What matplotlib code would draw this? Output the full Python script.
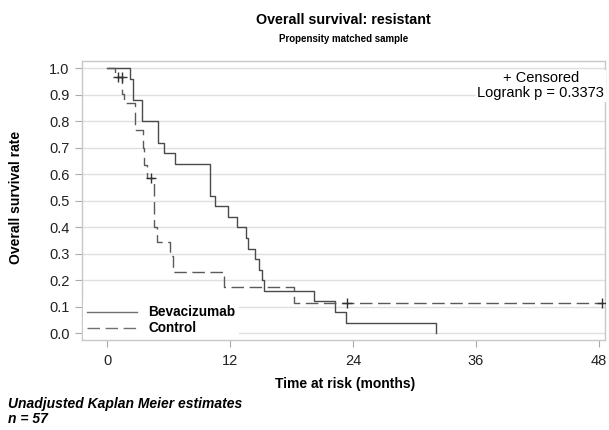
import matplotlib.pyplot as plt
import numpy as np

plt.rcParams["font.family"] = ["Liberation Sans", "DejaVu Sans"]

# Kaplan-Meier steps (months, survival)
bev_time = [0, 2.2, 2.5, 3.4, 5.0, 5.5, 6.6, 10.0, 10.5, 11.8, 12.65, 13.6, 13.8,
            14.4, 14.8, 15.1, 15.35, 20.2, 22.3, 23.3, 32.1]
bev_surv = [1.0, 0.96, 0.88, 0.80, 0.72, 0.68, 0.64, 0.52, 0.48, 0.44, 0.40, 0.36, 0.32,
            0.28, 0.24, 0.20, 0.16, 0.12, 0.08, 0.04, 0.0]

ctl_time = [0, 0.8, 1.45, 1.6, 2.7, 3.5, 3.6, 3.85, 4.6, 4.9, 6.1, 6.4, 11.4, 18.2, 48.3]
ctl_surv = [1.0, 0.969, 0.902, 0.869, 0.769, 0.70, 0.635, 0.585, 0.40, 0.345, 0.29,
            0.232, 0.174, 0.116, 0.116]

ctl_cens_time = [1.1, 1.4, 4.3, 23.4, 48.3]
ctl_cens_surv = [0.969, 0.969, 0.585, 0.116, 0.116]

x_ticks = [0, 12, 24, 36, 48]
y_ticks = np.round(np.arange(0, 1.01, 0.1), 1)

fig = plt.figure(figsize=(6.09, 4.30), dpi=100)
ax = fig.add_axes([0.135, 0.209, 0.858, 0.649])

ax.step(bev_time, bev_surv, where="post", color="#4a4a4a", linewidth=1.0,
        label="Bevacizumab", zorder=3)
ax.step(ctl_time, ctl_surv, where="post", color="#5a5a5a", linewidth=1.0,
        linestyle=(0, (9, 4)), label="Control", zorder=3)
ax.plot(ctl_cens_time, ctl_cens_surv, linestyle="none", marker="+", markersize=7,
        markeredgewidth=1.0, color="#333333", zorder=4)

ax.set_xlim(-2.44, 48.6)
ax.set_ylim(-0.026, 1.028)
ax.set_xticks(x_ticks)
ax.set_yticks(y_ticks)
ax.set_yticklabels([f"{v:.1f}" for v in y_ticks])
ax.grid(axis="y", color="#e0e0e0", linewidth=1.0)
ax.set_axisbelow(True)
for s in ax.spines.values():
    s.set_color("#c8c8c8")
    s.set_linewidth(1.0)
ax.tick_params(axis="both", color="#aaaaaa", length=5, labelsize=10.5,
               labelcolor="#222222")
ax.tick_params(axis="x", pad=5)
ax.tick_params(axis="y", pad=4)

ax.set_xlabel("Time at risk (months)", fontsize=10, fontweight="bold")
ax.xaxis.set_label_coords(0.503, -0.133)
ax.set_ylabel("Overall survival rate", fontsize=10, fontweight="bold")
ax.yaxis.set_label_coords(-0.113, 0.513)

fig.text(0.564, 0.953, "Overall survival: resistant", ha="center", va="center",
         fontsize=10.3, fontweight="bold")
fig.text(0.564, 0.909, "Propensity matched sample", ha="center", va="center",
         fontsize=7, fontweight="bold")

ax.text(0.999, 0.963, "+ Censored\nLogrank p = 0.3373", transform=ax.transAxes,
        ha="right", va="top", multialignment="center", fontsize=10.5,
        linespacing=1.1, bbox=dict(facecolor="white", edgecolor="none", pad=1))

leg = ax.legend(loc="lower left", frameon=True, framealpha=1, edgecolor="none",
                prop={"weight": "bold", "size": 9.8}, handlelength=3.7,
                handletextpad=0.8, borderaxespad=0.05, labelspacing=0.15,
                borderpad=0.3)
for h in leg.get_lines():
    h.set_color("#707070")

fig.text(0.013, 0.043, "Unadjusted Kaplan Meier estimates\nn = 57", ha="left",
         va="center", fontsize=10, fontweight="bold", fontstyle="italic",
         linespacing=1.15)

fig.savefig("out.png", dpi=100)
